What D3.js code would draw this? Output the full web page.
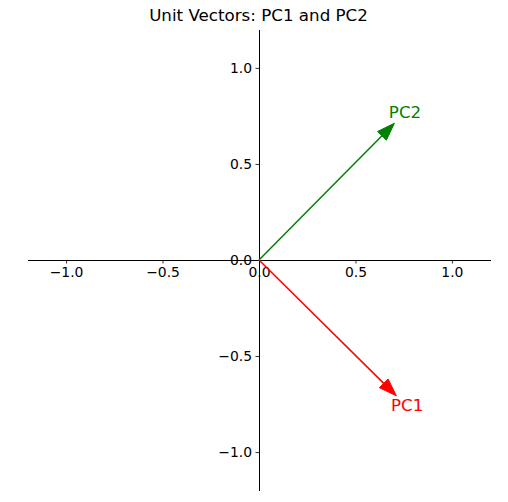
<!DOCTYPE html>
<html>
<head>
<meta charset="utf-8">
<script src="https://cdn.jsdelivr.net/npm/d3@7/dist/d3.min.js"></script>
<style>
  html, body { margin: 0; padding: 0; background: #fff; }
  svg { display: block; font-family: "DejaVu Sans", sans-serif; }
</style>
</head>
<body>
<svg id="chart" width="508" height="502"></svg>
<script>
// ---- data ----
const vectorNames = ["PC1", "PC2"];
const vectorX = [0.712, 0.702];
const vectorY = [-0.707, 0.712];
const labelX = [0.768, 0.757];
const labelY = [-0.755, 0.772];
const xTicks = [-1.0, -0.5, 0.0, 0.5, 1.0];
const yTicks = [-1.0, -0.5, 0.0, 0.5, 1.0];
const xDomain = [-1.2, 1.2];
const yDomain = [-1.2, 1.2];
const titleText = "Unit Vectors: PC1 and PC2";

// ---- styles ----
const colors = { PC1: "#ff0000", PC2: "#008000" };
const headLength = 0.092, headWidth = 0.064;

const svg = d3.select("#chart");
const x = d3.scaleLinear().domain(xDomain).range([27.5, 490.5]);
const y = d3.scaleLinear().domain(yDomain).range([490.5, 29.5]);
const fmt = d => (d < 0 ? "\u2212" : "") + Math.abs(d).toFixed(1);

// title
svg.append("text")
  .attr("x", 258.5).attr("y", 21)
  .attr("text-anchor", "middle")
  .attr("font-size", "16.7px")
  .attr("fill", "#000")
  .text(titleText);

// x axis through y=0
const xAxis = d3.axisBottom(x).tickValues(xTicks).tickFormat(fmt).tickSize(3.5).tickPadding(3.5).tickSizeOuter(0);
const gx = svg.append("g").attr("transform", `translate(0,${y(0)})`).call(xAxis);
// y axis through x=0
const yAxis = d3.axisLeft(y).tickValues(yTicks).tickFormat(fmt).tickSize(3.5).tickPadding(3.5).tickSizeOuter(0);
const gy = svg.append("g").attr("transform", `translate(${x(0)},0)`).call(yAxis);

[gx, gy].forEach(g => {
  g.select(".domain").attr("stroke", "#000").attr("stroke-width", 1);
  g.selectAll(".tick line").attr("stroke", "#000").attr("stroke-width", 0.8);
  g.selectAll(".tick text").attr("font-size", "13.9px").attr("fill", "#000")
    .attr("font-family", "DejaVu Sans, sans-serif");
});

// arrows
vectorNames.forEach((name, i) => {
  const vx = vectorX[i], vy = vectorY[i];
  const len = Math.hypot(vx, vy);
  const ux = vx / len, uy = vy / len;
  const px = -uy, py = ux;
  const bx = vx - ux * headLength, by = vy - uy * headLength;
  const col = colors[name];
  svg.append("line")
    .attr("x1", x(0)).attr("y1", y(0))
    .attr("x2", x(bx)).attr("y2", y(by))
    .attr("stroke", col).attr("stroke-width", 1.5);
  const pts = [
    [vx, vy],
    [bx + px * headWidth / 2, by + py * headWidth / 2],
    [bx - px * headWidth / 2, by - py * headWidth / 2]
  ];
  svg.append("polygon")
    .attr("points", pts.map(p => `${x(p[0])},${y(p[1])}`).join(" "))
    .attr("fill", col).attr("stroke", col).attr("stroke-width", 1).attr("stroke-linejoin", "miter");
  svg.append("text")
    .attr("x", x(labelX[i])).attr("y", y(labelY[i]))
    .attr("text-anchor", "middle")
    .attr("dominant-baseline", "central")
    .attr("font-size", "16.7px")
    .attr("fill", col)
    .text(name);
});
</script>
</body>
</html>
